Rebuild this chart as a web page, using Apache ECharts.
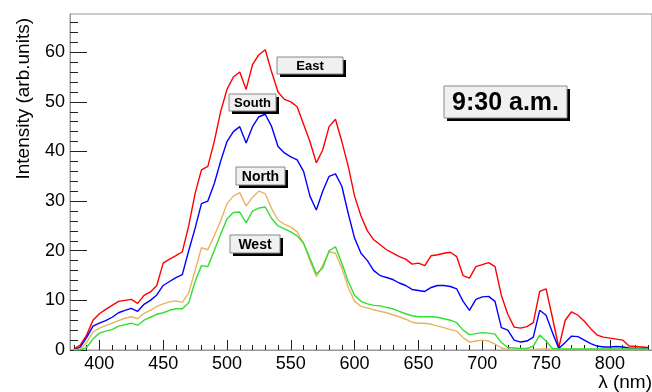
<!DOCTYPE html>
<html>
<head>
<meta charset="utf-8">
<script src="https://cdn.jsdelivr.net/npm/echarts@6/dist/echarts.min.js"></script>
<style>
  html, body { margin: 0; padding: 0; background: #fff; }
  #main { width: 652px; height: 392px; }
</style>
</head>
<body>
<div id="main"></div>
<script>
    // wavelength grid (nm)
    var wavelengths = [380, 385, 390, 395, 400, 405, 410, 415, 420, 425, 430, 435, 440, 445, 450, 455, 460, 465, 470, 475,
        480, 485, 490, 495, 500, 505, 510, 515, 520, 525, 530, 535, 540, 545, 550, 555, 560, 565, 570, 575,
        580, 585, 590, 595, 600, 605, 610, 615, 620, 625, 630, 635, 640, 645, 650, 655, 660, 665, 670, 675,
        680, 685, 690, 695, 700, 705, 710, 715, 720, 725, 730, 735, 740, 745, 750, 755, 760, 765, 770, 775,
        780, 785, 790, 795, 800, 805, 810, 815, 820, 825, 830];

    var east = [0.2, 1.0, 3.0, 6.0, 7.3, 8.2, 9.0, 9.8, 10.0, 10.2, 9.4, 11.0, 11.7, 13.0, 17.5, 18.3, 19.0, 19.8, 25, 31.5,
        36.3, 37, 42, 48, 52.5, 55, 56, 52.5, 57.5, 59.5, 60.5, 56, 52, 50.5, 50, 49, 45.5, 42, 37.7, 40.3,
        45, 46.5, 42, 37, 31, 27, 24, 22.2, 21.2, 20.2, 19.5, 18.8, 18.3, 17.3, 17.5, 17.0, 19, 19.2, 19.5, 19.7,
        18.8, 15, 14.5, 16.8, 17.2, 17.6, 16.8, 11, 7.2, 4.6, 4.4, 4.7, 5.5, 11.8, 12.3, 6.5, 0.5, 6, 7.7, 7.0,
        5.8, 4.3, 3, 2.6, 2.4, 2.2, 2, 0.8, 0.7, 0.6, 0.5];

    var south = [0, 0.6, 2.5, 4.8, 5.4, 5.9, 6.6, 7.5, 8.0, 8.4, 7.8, 9.2, 10, 11.1, 13.0, 13.8, 14.6, 15.2, 20, 24.5,
        29.5, 30, 33.5, 38, 42, 44, 45, 41.7, 45, 47, 47.5, 45, 41, 39.7, 38.9, 38.3, 36, 31, 28.2, 32,
        35, 35.5, 33, 27.5, 22.5, 19.5, 18, 16, 15, 14.6, 14.2, 13.5, 13, 12.2, 12, 11.8, 12.6, 13, 13, 12.8,
        12.3, 9.8, 8, 10.2, 10.7, 10.8, 9.8, 4.5, 4, 2, 1.6, 1.8, 2.6, 8, 7, 3.5, 0.3, 1.5, 2.8, 2.7,
        2, 1.3, 0.8, 0.6, 0.6, 0.7, 0.6, 0.4, 0.3, 0.3, 0.3];

    var north = [0, 0.2, 1.5, 3.6, 4.4, 4.9, 5.4, 5.9, 6.4, 6.7, 6.3, 7.4, 8.0, 8.8, 9.3, 9.7, 9.9, 9.6, 11.5, 16,
        20.6, 20.2, 23, 26, 29.5, 31, 31.7, 29, 30.8, 32, 31.5, 28.5, 26.2, 25.3, 24.8, 23.8, 21.5, 18, 14.8, 17,
        19.8, 19.5, 16.5, 12.6, 9.8, 8.8, 8.5, 8.1, 7.8, 7.5, 7.1, 6.7, 6.2, 5.6, 5.4, 5.4, 5.2, 4.8, 4.5, 4.1,
        3.8, 2.5, 1.6, 1.8, 2, 1.8, 1.2, 0.4, 0.1, 0.1, 0.1, 0.1, 0.1, 0.2, 0.2, 0.1, 0.1, 0.1, 0.1, 0.1,
        0.1, 0.1, 0.1, 0.1, 0.1, 0.1, 0.1, 0.1, 0.1, 0.1, 0.1];

    var west = [0, 0, 0.5, 2.2, 3.4, 3.8, 4.1, 4.8, 5.1, 5.4, 5.0, 6.0, 6.6, 7.2, 7.5, 8.0, 8.3, 8.3, 9.5, 13.8,
        17, 16.8, 20, 23.3, 26.4, 27.7, 27.8, 25.6, 28, 28.6, 28.8, 26.5, 25, 24.4, 23.8, 23, 21.5, 18.5, 15.3, 16.5,
        20, 20.8, 17.5, 13.8, 11, 9.8, 9.3, 9.0, 8.9, 8.6, 8.3, 7.8, 7.3, 6.9, 6.7, 6.7, 6.7, 6.6, 6.3, 6,
        5.5, 4, 3.1, 3.3, 3.5, 3.4, 3.2, 1.5, 0.5, 0.4, 0.3, 0.3, 0.8, 3.0, 1.8, 0.3, 0.2, 0.2, 0.2, 0.2,
        0.2, 0.2, 0.2, 0.2, 0.2, 0.2, 0.2, 0.2, 0.2, 0.2, 0.2];

    var names = ['East', 'South', 'North', 'West'];
    var colors = ['#ff0000', '#0000ff', '#e8b464', '#33dd33'];

    // tick positions
    var xMajor = [400, 450, 500, 550, 600, 650, 700, 750, 800];
    var xMinor = [380, 390, 410, 420, 430, 440, 460, 470, 480, 490, 510, 520, 530, 540, 560, 570, 580, 590,
        610, 620, 630, 640, 660, 670, 680, 690, 710, 720, 730, 740, 760, 770, 780, 790, 810, 820, 830];
    var yMajor = [0, 10, 20, 30, 40, 50, 60];
    var yMinor = [2, 4, 6, 8, 12, 14, 16, 18, 22, 24, 26, 28, 32, 34, 36, 38, 42, 44, 46, 48, 52, 54, 56, 58, 62, 64, 66];

    function pairs(vals) {
        return wavelengths.map(function (w, i) { return [w, vals[i]]; });
    }

    // ROOT-like text box with drop shadow
    function pave(x, y, w, h, text, size) {
        return {
            type: 'group', x: x, y: y,
            children: [
                { type: 'rect', shape: { x: 3, y: 3, width: w, height: h }, style: { fill: '#000' } },
                { type: 'rect', shape: { x: 0, y: 0, width: w, height: h }, style: { fill: '#f0f0f0', stroke: '#888', lineWidth: 1 } },
                { type: 'text', x: w / 2, y: h / 2 + 1, style: {
                    text: text, fill: '#000', align: 'center', verticalAlign: 'middle',
                    font: 'bold ' + size + 'px "Liberation Sans", Arial, sans-serif' } }
            ]
        };
    }

    var font = '"Liberation Sans", Arial, sans-serif';
    var xMin = 377, xMax = 833, yMin = 0, yMax = 67.7;

    function xAxisOf(ticks, len, labels) {
        return {
            type: 'value', min: xMin, max: xMax, position: 'bottom',
            axisLine: { show: labels, onZero: false, lineStyle: { color: '#999' } },
            axisTick: { show: true, inside: true, length: len, customValues: ticks, lineStyle: { color: '#222' } },
            splitLine: { show: false },
            axisLabel: { show: labels, customValues: ticks, fontSize: 18, color: '#000', margin: 5, fontFamily: font }
        };
    }
    function yAxisOf(ticks, len, labels) {
        return {
            type: 'value', min: yMin, max: yMax, position: 'left',
            axisLine: { show: labels, onZero: false, lineStyle: { color: '#999' } },
            axisTick: { show: true, inside: true, length: len, customValues: ticks, lineStyle: { color: '#222' } },
            splitLine: { show: false },
            axisLabel: { show: labels, customValues: ticks, fontSize: 18, color: '#000', margin: 5, fontFamily: font }
        };
    }

    var myChart = echarts.init(document.getElementById('main'));
    var option = {
        backgroundColor: '#fff',
        animation: false,
        grid: {
            left: 70, right: 0, top: 14, bottom: 42,
            show: true, borderColor: '#999', borderWidth: 1,
            containLabel: false, outerBoundsMode: 'none'
        },
        xAxis: [xAxisOf(xMajor, 10, true), xAxisOf(xMinor, 5, false)],
        yAxis: [yAxisOf(yMajor, 17, true), yAxisOf(yMinor, 8, false)],
        graphic: [
            { type: 'text', x: 24, y: 18, rotation: Math.PI / 2, style: {
                text: 'Intensity (arb.units)', fill: '#000', align: 'right', verticalAlign: 'middle',
                font: '19px ' + font } },
            { type: 'text', x: 652, y: 383, style: {
                text: 'λ (nm)', fill: '#000', align: 'right', verticalAlign: 'middle',
                font: '19px ' + font } },
            pave(277, 57, 66, 17, 'East', 13),
            pave(229, 94, 47, 17, 'South', 13),
            pave(236, 167, 49, 18, 'North', 14),
            pave(230, 235, 50, 18, 'West', 14),
            pave(444, 86, 123, 32, '9:30 a.m.', 25)
        ],
        series: [east, south, north, west].map(function (vals, k) {
            return {
                name: names[k],
                type: 'line',
                showSymbol: false,
                data: pairs(vals),
                lineStyle: { color: colors[k], width: 1.4 },
                itemStyle: { color: colors[k] },
                z: 2
            };
        })
    };
    myChart.setOption(option);
</script>
</body>
</html>
